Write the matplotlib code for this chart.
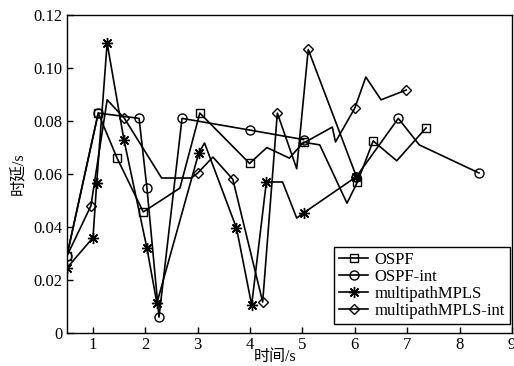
import matplotlib
matplotlib.use('Agg')
import matplotlib.pyplot as plt
import numpy as np

nan = np.nan

# OSPF (squares)
ospf_x = [0.5, 1.1, 1.46, 1.96, 2.66, 3.04, 3.99, 4.32, 4.75, 5.02, 5.33, 5.85, 6.05, 6.35, 6.8, 7.36]
ospf_y = [0.029, 0.083, 0.066, 0.0457, 0.0547, 0.083, 0.064, 0.070, 0.066, 0.072, 0.071, 0.049, 0.057, 0.0725, 0.065, 0.0774]
ospf_mk = [0, 1, 2, 3, 5, 6, 9, 12, 13, 15]

# OSPF-int (circles)
oi_x = [0.5, 1.1, 1.88, 2.03, 2.26, 2.7, 3.99, 5.02, nan, 6.03, 6.83, 7.23, 8.37]
oi_y = [0.029, 0.083, 0.081, 0.0547, 0.006, 0.081, 0.0766, 0.073, nan, 0.059, 0.081, 0.071, 0.0604]
oi_mk = [0, 1, 2, 3, 4, 5, 6, 7, 9, 10, 12]

# multipathMPLS (asterisks)
mp_x = [0.5, 1.0, 1.07, 1.27, 1.59, 2.03, 2.22, 3.02, 3.13, 3.74, 4.03, 4.31, 4.62, 4.89, 5.02, 6.03]
mp_y = [0.0245, 0.036, 0.0566, 0.1094, 0.073, 0.032, 0.0113, 0.068, 0.0717, 0.0396, 0.0106, 0.057, 0.057, 0.0434, 0.0453, 0.059]
mp_mk = [0, 1, 2, 3, 4, 5, 6, 7, 9, 10, 11, 14, 15]

# multipathMPLS-int (diamonds)
mi_x = [0.5, 0.96, 1.27, 1.6, 2.31, 2.88, 3.0, 3.29, 3.67, 4.24, 4.52, 4.89, 5.11, 6.03,
        nan, 5.02, 5.57, 5.63, 6.0, 6.21, 6.5, 6.98]
mi_y = [0.029, 0.048, 0.088, 0.081, 0.0585, 0.0585, 0.0604, 0.0664, 0.058, 0.0117, 0.083, 0.062, 0.107, 0.059,
        nan, 0.0717, 0.0777, 0.0721, 0.0849, 0.0966, 0.088, 0.0917]
mi_mk = [1, 3, 6, 8, 9, 10, 12, 18, 21]

xticks = [1, 2, 3, 4, 5, 6, 7, 8, 9]
yticks = [0, 0.02, 0.04, 0.06, 0.08, 0.10, 0.12]
ytick_labels = ['0', '0.02', '0.04', '0.06', '0.08', '0.10', '0.12']

plt.rcParams['font.family'] = ['Liberation Serif', 'Noto Sans CJK SC']
plt.rcParams['font.size'] = 12

fig = plt.figure(figsize=(5.14, 3.66), dpi=100)
ax = fig.add_axes([0.130, 0.090, 0.866, 0.869])

style = dict(color='k', lw=1.2, mfc='none', mec='k', mew=1.0)
ax.plot(ospf_x, ospf_y, marker='s', ms=5.5, markevery=ospf_mk, label='OSPF', **style)
ax.plot(oi_x, oi_y, marker='o', ms=6.5, markevery=oi_mk, label='OSPF-int', **style)
ax.plot(mp_x, mp_y, marker=(8, 2, 0), ms=8, markevery=mp_mk, label='multipathMPLS', **style)
ax.plot(mi_x, mi_y, marker='D', ms=5, markevery=mi_mk, label='multipathMPLS-int', **style)

ax.set_xlim(0.5, 9)
ax.set_ylim(0, 0.12)
ax.set_xticks(xticks)
ax.set_xticklabels([str(t) for t in xticks])
ax.set_yticks(yticks)
ax.set_yticklabels(ytick_labels)
ax.tick_params(direction='in', length=4, width=1, top=False, right=False, pad=3)
for s in ax.spines.values():
    s.set_linewidth(1.0)

ax.set_xlabel('时间/s', fontsize=11.5)
ax.xaxis.set_label_coords(0.468, -0.05)
ax.set_ylabel('时延/s', fontsize=11.5)
ax.yaxis.set_label_coords(-0.088, 0.5)

leg = ax.legend(loc='lower right', bbox_to_anchor=(0.995, 0.03), fancybox=False,
                edgecolor='k', framealpha=1, borderpad=0.3, labelspacing=0.05,
                handlelength=1.7, handletextpad=0.4, borderaxespad=0.0)
leg.get_frame().set_linewidth(1.0)

fig.savefig('out.png', dpi=100)
